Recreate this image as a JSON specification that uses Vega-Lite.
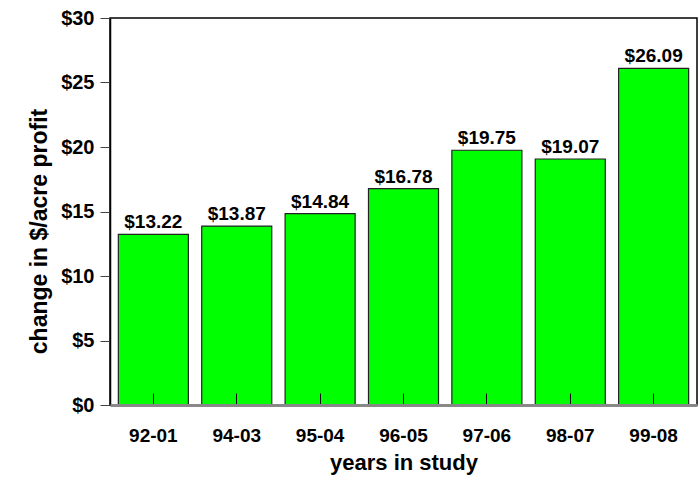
{
  "$schema": "https://vega.github.io/schema/vega-lite/v6.json",
  "autosize": "none",
  "width": 587,
  "height": 387,
  "padding": {"left": 110, "top": 18, "right": 1, "bottom": 72},
  "background": "white",
  "config": {
    "view": {"stroke": "black", "strokeWidth": 1.5},
    "font": "Liberation Sans"
  },
  "data": {
    "values": [
      {"period": "92-01", "value": 13.22},
      {"period": "94-03", "value": 13.87},
      {"period": "95-04", "value": 14.84},
      {"period": "96-05", "value": 16.78},
      {"period": "97-06", "value": 19.75},
      {"period": "98-07", "value": 19.07},
      {"period": "99-08", "value": 26.09}
    ]
  },
  "encoding": {
    "x": {
      "field": "period",
      "type": "ordinal",
      "sort": null,
      "scale": {"paddingInner": 0.16, "paddingOuter": 0.1},
      "axis": {
        "title": "years in study",
        "titleFont": "Liberation Sans",
        "titleFontSize": 22,
        "titleFontWeight": "bold",
        "titleColor": "black",
        "titlePadding": 7,
        "labelAngle": 0,
        "labelFont": "Liberation Sans",
        "labelFontSize": 19,
        "labelFontWeight": "bold",
        "labelColor": "black",
        "labelPadding": 33,
        "tickSize": -12,
        "tickColor": "black",
        "domainColor": "#888888",
        "domainWidth": 3,
        "zindex": 1
      }
    },
    "y": {
      "field": "value",
      "type": "quantitative",
      "scale": {"domain": [0, 30], "nice": false},
      "axis": {
        "title": "change in $/acre profit",
        "titleFont": "Liberation Sans",
        "titleFontSize": 23,
        "titleFontWeight": "bold",
        "titleColor": "black",
        "titleBaseline": "middle",
        "titleX": -71,
        "titleY": 213,
        "values": [0, 5, 10, 15, 20, 25, 30],
        "labelExpr": "'$' + datum.value",
        "labelFont": "Liberation Sans",
        "labelFontSize": 20,
        "labelFontWeight": "bold",
        "labelColor": "black",
        "labelPadding": 6,
        "tickSize": 10,
        "tickColor": "#444444",
        "domainColor": "black",
        "domainWidth": 1.5,
        "grid": false
      }
    }
  },
  "layer": [
    {
      "mark": {"type": "bar", "color": "#00ff00", "stroke": "#222222", "strokeWidth": 1.2}
    },
    {
      "mark": {
        "type": "text",
        "baseline": "bottom",
        "dy": -2,
        "font": "Liberation Sans",
        "fontSize": 19,
        "fontWeight": "bold",
        "color": "black"
      },
      "encoding": {
        "text": {"field": "value", "type": "quantitative", "format": "$.2f"}
      }
    }
  ]
}
